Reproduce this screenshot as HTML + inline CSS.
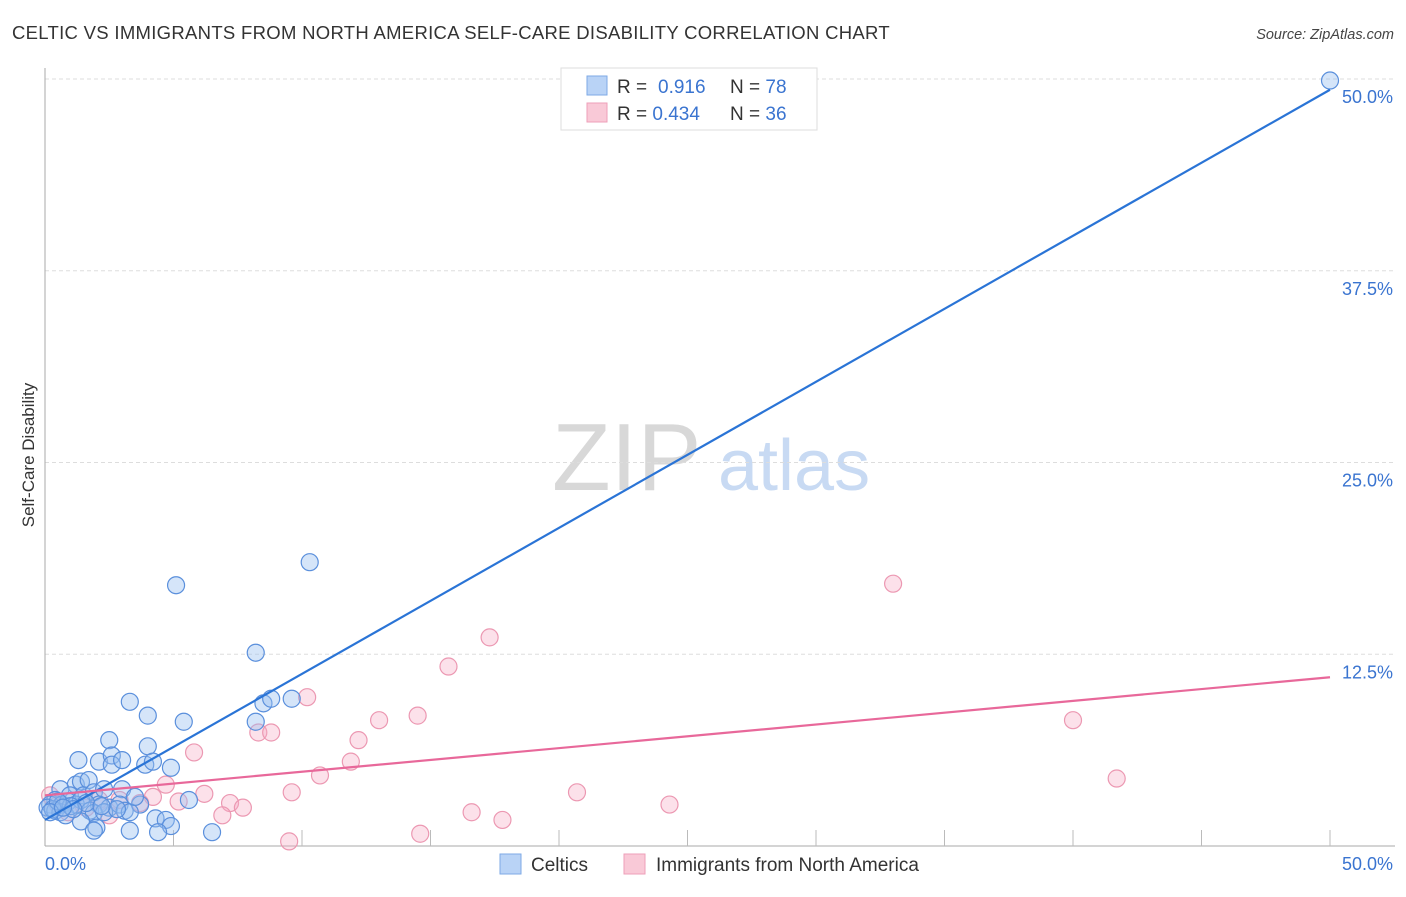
<!DOCTYPE html>
<html><head><meta charset="utf-8"><style>
body{margin:0;background:#fff;font-family:"Liberation Sans",sans-serif;}
svg text{font-family:"Liberation Sans",sans-serif;}
</style></head><body>
<svg width="1406" height="892" viewBox="0 0 1406 892">
<text x="12" y="39" font-size="18.5" letter-spacing="0.3" fill="#333">CELTIC VS IMMIGRANTS FROM NORTH AMERICA SELF-CARE DISABILITY CORRELATION CHART</text>
<text x="1394" y="39" font-size="14.5" fill="#444" font-style="italic" text-anchor="end">Source: ZipAtlas.com</text>
<g>
<text x="552" y="490" font-size="96" fill="#d8d8d8" font-family="Liberation Serif,serif">ZIP</text>
<text x="718" y="490" font-size="72" fill="#c8daf3">atlas</text>
</g>
<g id="grid"></g>
<g id="axes"></g>
<g id="marks"></g>
<text transform="translate(34,455) rotate(-90)" font-size="17" fill="#333" text-anchor="middle">Self-Care Disability</text>
<g>
<rect x="561" y="68" width="256" height="62" fill="#fff" stroke="#ddd"/>
<rect x="587" y="76" width="20" height="19" fill="#b9d3f6" stroke="#7ea9e6"/>
<rect x="587" y="103" width="20" height="19" fill="#f9c9d7" stroke="#ee9fb8"/>
<text x="617" y="93" font-size="19" fill="#333">R = </text><text x="658" y="93" font-size="19" fill="#3a74d0">0.916</text>
<text x="730" y="93" font-size="19" fill="#333">N = <tspan fill="#3a74d0">78</tspan></text>
<text x="617" y="120" font-size="19" fill="#333">R = <tspan fill="#3a74d0">0.434</tspan></text>
<text x="730" y="120" font-size="19" fill="#333">N = <tspan fill="#3a74d0">36</tspan></text>
</g>
<g>
<rect x="500" y="854" width="21" height="20" fill="#b9d3f6" stroke="#7ea9e6"/>
<text x="531" y="871" font-size="19" fill="#333">Celtics</text>
<rect x="624" y="854" width="21" height="20" fill="#f9c9d7" stroke="#ee9fb8"/>
<text x="656" y="871" font-size="19" fill="#333">Immigrants from North America</text>
</g>
</svg>
<script>
const yTicks=[12.5,25,37.5,50];
const yTickLabels=["12.5%","25.0%","37.5%","50.0%"];
const xTickLabels=["0.0%","50.0%"];
const celticsX=[50,10.3,5.1,8.2,3.3,4.0,5.4,8.2,8.5,8.8,9.6,2.5,4.0,1.3,2.1,2.6,2.6,3.0,3.9,4.2,4.9,1.2,1.4,1.7,0.6,0.97,1.5,1.9,2.3,3.0,0.4,0.2,0.1,0.4,0.66,0.9,1.2,1.4,2.1,2.5,2.9,3.1,3.7,1.75,1.9,2.3,3.3,5.6,1.4,2.0,1.9,3.3,4.3,4.7,4.9,4.4,6.5,0.6,0.8,0.3,1.0,1.6,2.8,3.5,0.5,1.1,2.2,0.2,0.7];
const celticsY=[49.9,18.5,17.0,12.6,9.4,8.5,8.1,8.1,9.3,9.6,9.6,6.9,6.5,5.6,5.5,5.9,5.3,5.6,5.3,5.5,5.1,4.0,4.2,4.3,3.7,3.3,3.3,3.5,3.7,3.7,3.0,2.7,2.5,2.3,2.7,2.9,2.7,3.0,2.7,2.5,2.7,2.3,2.7,2.3,2.15,2.2,2.2,3.0,1.6,1.2,1.0,1.0,1.8,1.7,1.3,0.9,0.9,2.2,2.0,2.4,2.6,2.8,2.4,3.2,2.9,2.4,2.6,2.2,2.5];
const immX=[33.0,17.3,15.7,10.2,40.0,13.0,14.5,8.3,8.8,12.2,5.8,11.9,10.7,41.7,4.7,4.2,6.2,9.6,20.7,5.2,7.2,7.7,24.3,3.7,2.9,6.9,16.6,17.8,14.6,9.5,0.2,0.5,0.9,1.6,2.1,2.5];
const immY=[17.1,13.6,11.7,9.7,8.2,8.2,8.5,7.4,7.4,6.9,6.1,5.5,4.6,4.4,4.0,3.2,3.4,3.5,3.5,2.9,2.8,2.5,2.7,2.8,3.0,2.0,2.2,1.7,0.8,0.3,3.3,2.7,2.2,2.5,3.0,2.0];
const celticsTrend=[1.7,49.3];
const immTrend=[3.3,11.0];
const NS="http://www.w3.org/2000/svg";
const X0=45,X1=1330,Y0=846,Y1=79;
const xs=v=>X0+v/50*(X1-X0);
const ys=v=>Y0-v/50*(Y0-Y1);
function mk(t,a,p){const e=document.createElementNS(NS,t);for(const k in a)e.setAttribute(k,a[k]);p.appendChild(e);return e;}
const grid=document.getElementById('grid'),axes=document.getElementById('axes'),marks=document.getElementById('marks');
yTicks.forEach((v,i)=>{
 const l=mk('line',{x1:X0,x2:1395,y1:ys(v),y2:ys(v),stroke:'#ddd','stroke-dasharray':'4,3'},grid);
 
 
 const t=mk('text',{x:1393,y:ys(v)+24,'font-size':18,fill:'#3a74d0','text-anchor':'end'},axes);
 t.textContent=yTickLabels[i];
 
 
});
mk('line',{x1:X0,x2:X0,y1:68,y2:846,stroke:'#aaa'},axes);
mk('line',{x1:X0,x2:1395,y1:846,y2:846,stroke:'#aaa'},axes);
for(let i=1;i<=10;i++){const x=xs(i*5);const tk=mk('line',{x1:x,x2:x,y1:830,y2:846,stroke:'#bbb'},axes);
 
 }
let t0=mk('text',{x:45,y:870,'font-size':18,fill:'#3a74d0'},axes);t0.textContent=xTickLabels[0];


let t1=mk('text',{x:1393,y:870,'font-size':18,fill:'#3a74d0','text-anchor':'end'},axes);t1.textContent=xTickLabels[1];


immX.forEach((v,i)=>{const c=mk('circle',{cx:xs(v),cy:ys(immY[i]),r:8.5,fill:'rgba(245,170,195,0.35)',stroke:'#ec98b2','stroke-width':1.2},marks);
 
 });
celticsX.forEach((v,i)=>{const c=mk('circle',{cx:xs(v),cy:ys(celticsY[i]),r:8.5,fill:'rgba(150,190,240,0.4)',stroke:'#5a8fdc','stroke-width':1.2},marks);
 
 });
const l1=mk('line',{x1:xs(0),y1:ys(celticsTrend[0]),x2:xs(50),y2:ys(celticsTrend[1]),stroke:'#2a74d6','stroke-width':2.2},marks);


const l2=mk('line',{x1:xs(0),y1:ys(immTrend[0]),x2:xs(50),y2:ys(immTrend[1]),stroke:'#e8689a','stroke-width':2.2},marks);


</script>
</body></html>
